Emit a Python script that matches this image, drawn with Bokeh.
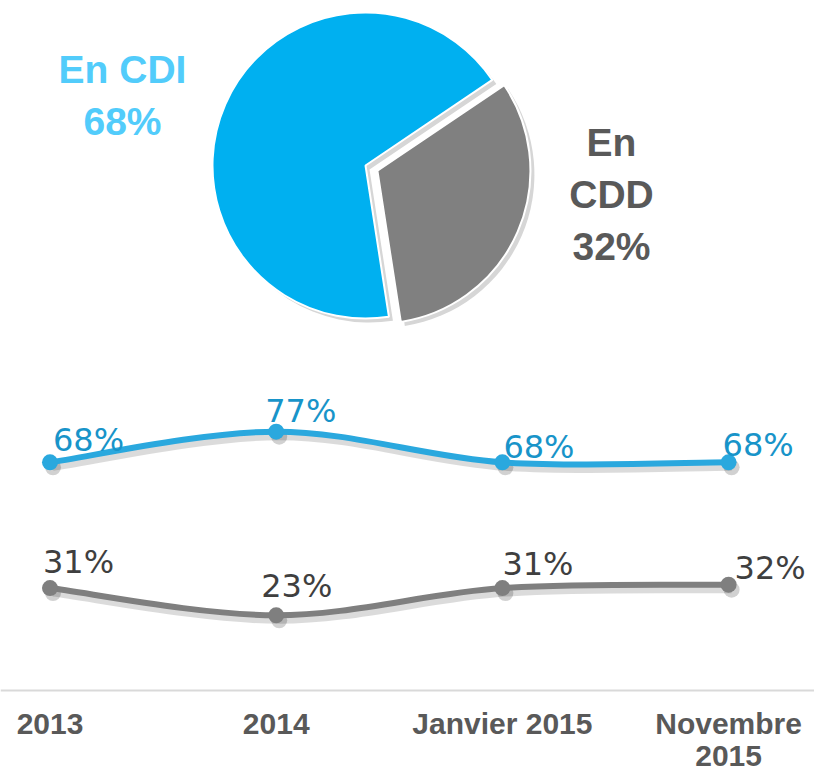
import math
from bokeh.plotting import figure
from bokeh.models import Range1d, FixedTicker
from bokeh.core.properties import value
from bokeh.embed import file_html
from bokeh.resources import INLINE

# ---- data ----
pie_categories = ["CDI", "CDD"]
pie_values = [68, 32]
periods = ["2013", "2014", "Janvier 2015", "Novembre\n2015"]
cdi_values = [68, 77, 68, 68]
cdd_values = [31, 23, 31, 32]

# ---- layout / style ----
W, H = 814, 776
CDI_PIE = "#00B0F0"
CDD_PIE = "#808080"
CDI_TXT = "#52CCFB"
CDD_TXT = "#595959"
LINE_BLUE = "#2AA8DE"
LABEL_BLUE = "#1894C9"
LINE_GRAY = "#7F7F7F"
LABEL_GRAY = "#3F3F3F"

# per-label pixel offsets (left edge / vertical centre relative to the point)
cdi_dx = [3, -11, 1, -6]
cdi_dy = [-22, -21, -15, -17]
cdd_dx = [-7, -15, 0, 6]
cdd_dy = [-26, -29, -24, -17]

xs = list(range(len(periods)))
unit_x = 226.2
x0 = -49.5 / unit_x
x1 = x0 + W / unit_x
unit_y = 3.4
y_zero_px = 693.0
y1 = y_zero_px / unit_y
y0 = y1 - H / unit_y

p = figure(width=W, height=H, x_range=Range1d(x0, x1), y_range=Range1d(y0, y1),
           output_backend="svg", toolbar_location=None, min_border=0)
p.yaxis.visible = False
p.grid.visible = False
p.outline_line_color = None

# pixel-unit ranges for the pie
p.extra_x_ranges = {"pie": Range1d(0, W)}
p.extra_y_ranges = {"pie": Range1d(0, H)}

cx, cy, r = 365, H - 165, 153
total = sum(pie_values)
end_cdd = math.radians(34)
span_cdd = 2 * math.pi * pie_values[1] / total
span_cdi = 2 * math.pi * pie_values[0] / total
start_cdd = end_cdd - span_cdd
mid = (start_cdd + end_cdd) / 2
explode = 13
ex, ey = cx + explode * math.cos(mid), cy + explode * math.sin(mid)
sh = 4
pk = dict(x_range_name="pie", y_range_name="pie")

p.wedge(x=cx + sh, y=cy - sh, radius=r, start_angle=end_cdd, end_angle=end_cdd + span_cdi,
        fill_color="#D6D6D6", line_color=None, **pk)
p.wedge(x=ex + sh, y=ey - sh, radius=r, start_angle=start_cdd, end_angle=end_cdd,
        fill_color="#D6D6D6", line_color=None, **pk)
p.wedge(x=cx, y=cy, radius=r, start_angle=end_cdd, end_angle=end_cdd + span_cdi,
        fill_color=CDI_PIE, line_color="white", line_width=2, **pk)
p.wedge(x=ex, y=ey, radius=r, start_angle=start_cdd, end_angle=end_cdd,
        fill_color=CDD_PIE, line_color="white", line_width=2, **pk)

p.text(x=[122], y=[H - 95], text=[f"En {pie_categories[0]}\n{pie_values[0]}%"],
       text_align="center", text_baseline="middle", text_color=CDI_TXT,
       text_font=value("Liberation Sans"), text_font_style="bold",
       text_font_size="39px", text_line_height=1.2, **pk)
p.text(x=[611], y=[H - 194], text=[f"En\n{pie_categories[1]}\n{pie_values[1]}%"],
       text_align="center", text_baseline="middle", text_color=CDD_TXT,
       text_font=value("Liberation Sans"), text_font_style="bold",
       text_font_size="39px", text_line_height=1.2, **pk)

# ---- lines ----
dx_sh = 3 / unit_x
dy_sh = 5 / unit_y
p.extra_x_ranges["sh"] = Range1d(x0 - dx_sh, x1 - dx_sh)
p.extra_y_ranges["sh"] = Range1d(y0 + dy_sh, y1 + dy_sh)


def bez(vals):
    n = len(vals)
    P = [(xs[i], vals[i]) for i in range(n)]
    out = dict(x0=[], y0=[], x1=[], y1=[], cx0=[], cy0=[], cx1=[], cy1=[])
    for i in range(n - 1):
        pm, pa, pb, pn = P[max(i - 1, 0)], P[i], P[i + 1], P[min(i + 2, n - 1)]
        out["x0"].append(pa[0]); out["y0"].append(pa[1])
        out["x1"].append(pb[0]); out["y1"].append(pb[1])
        out["cx0"].append(pa[0] + (pb[0] - pm[0]) / 6)
        out["cy0"].append(pa[1] + (pb[1] - pm[1]) / 6)
        out["cx1"].append(pb[0] - (pn[0] - pa[0]) / 6)
        out["cy1"].append(pb[1] - (pn[1] - pa[1]) / 6)
    return out


for vals, lc, tc, ddx, ddy in [(cdi_values, LINE_BLUE, LABEL_BLUE, cdi_dx, cdi_dy),
                               (cdd_values, LINE_GRAY, LABEL_GRAY, cdd_dx, cdd_dy)]:
    b = bez(vals)
    p.bezier(**b, line_color="black", line_alpha=0.14, line_width=7,
             x_range_name="sh", y_range_name="sh")
    p.scatter(x=xs, y=vals, size=16, fill_color="black", fill_alpha=0.18, line_color=None,
              x_range_name="sh", y_range_name="sh")
    p.bezier(**b, line_color=lc, line_width=6, line_cap="round")
    p.scatter(x=xs, y=vals, size=16, fill_color=lc, line_color=None)
    p.text(x=xs, y=vals, text=[f"{v}%" for v in vals], x_offset=ddx, y_offset=ddy,
           text_align="left", text_baseline="middle", text_color=tc,
           text_font=value("DejaVu Sans"), text_font_size="32px")

ax = p.xaxis[0]
ax.fixed_location = 0.9
ax.ticker = FixedTicker(ticks=xs)
ax.major_label_overrides = {i: lab for i, lab in enumerate(periods)}
ax.axis_line_color = "#D9D9D9"
ax.axis_line_width = 2
ax.major_tick_line_color = None
ax.minor_tick_line_color = None
ax.major_tick_out = 0
ax.major_tick_in = 0
ax.major_label_standoff = 17
ax.major_label_text_font = "Liberation Sans"
ax.major_label_text_font_style = "bold"
ax.major_label_text_font_size = "30px"
ax.major_label_text_color = "#595959"
ax.major_label_text_line_height = 0.95

open("out.html", "w").write(file_html(p, INLINE))
